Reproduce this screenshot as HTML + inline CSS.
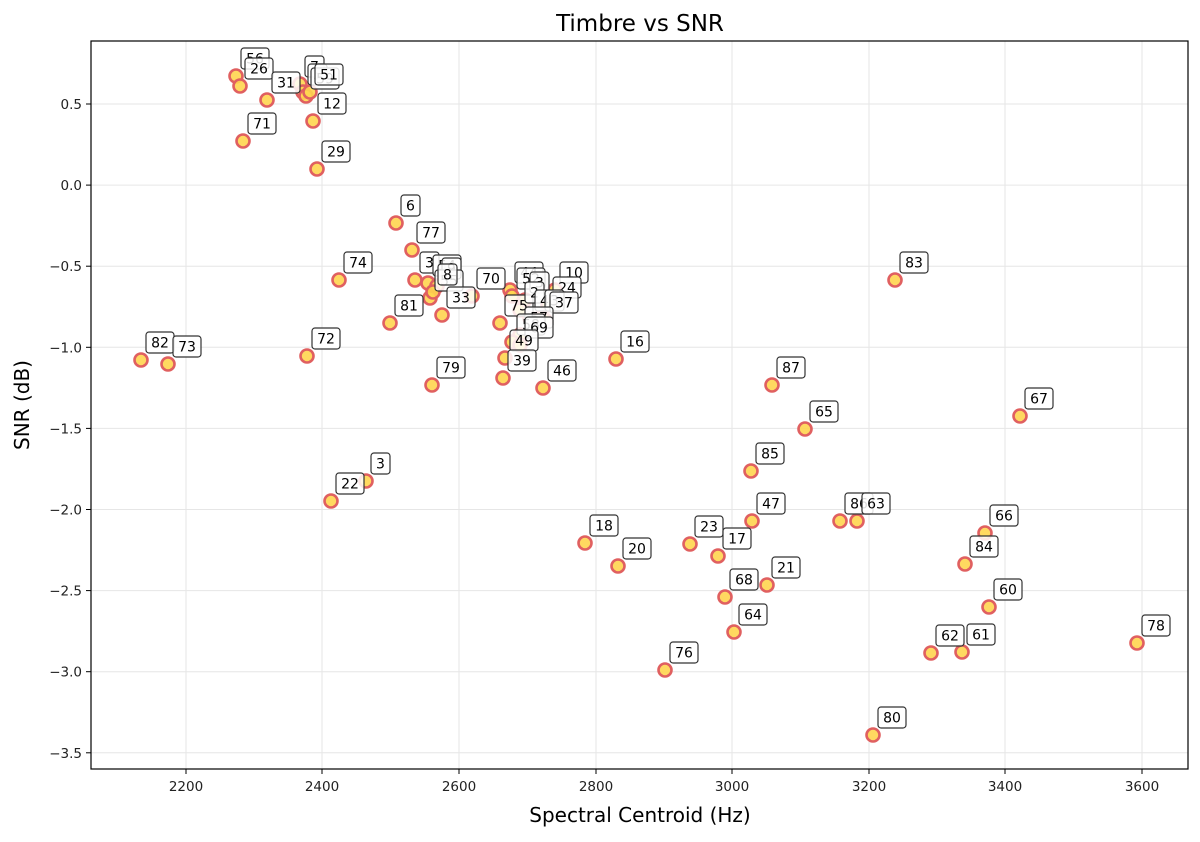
<!DOCTYPE html>
<html><head><meta charset="utf-8"><style>
body{margin:0;background:#fff}
svg text{font-family:"DejaVu Sans","Liberation Sans",sans-serif}
</style></head><body>
<svg id="s" width="1200" height="837" xmlns="http://www.w3.org/2000/svg">
<rect width="1200" height="837" fill="#fff"/>
<g id="grid" stroke="#e6e6e6" stroke-width="1"></g>
<g id="pts"></g>
<g id="lbl"></g>
<rect x="91" y="41" width="1097" height="728" fill="none" stroke="#000" stroke-width="1.2"/>
<g id="ticks" font-size="13.5" fill="#222"></g>
<text x="640" y="31" font-size="23" text-anchor="middle">Timbre vs SNR</text>
<text x="640" y="822" font-size="20" text-anchor="middle">Spectral Centroid (Hz)</text>
<text transform="translate(29,405) rotate(-90)" font-size="20" text-anchor="middle">SNR (dB)</text>
</svg>
<script>
const NS="http://www.w3.org/2000/svg";
function el(t,a,p,txt){const e=document.createElementNS(NS,t);for(const k in a)e.setAttribute(k,a[k]);if(txt!==undefined)e.textContent=txt;document.getElementById(p).appendChild(e);return e;}
const xt=[[2200,186],[2400,322],[2600,459],[2800,596],[3000,732],[3200,869],[3400,1005],[3600,1142]];
xt.forEach(([v,x])=>{el('line',{x1:x,x2:x,y1:41,y2:769},'grid');el('line',{x1:x,x2:x,y1:769,y2:774,stroke:'#000'},'ticks');el('text',{x:x,y:791,'text-anchor':'middle'},'ticks',v);});
for(let i=0;i<9;i++){const v=0.5-0.5*i;const y=104+81.1*i;el('line',{x1:91,x2:1188,y1:y,y2:y},'grid');el('line',{x1:86,x2:91,y1:y,y2:y,stroke:'#000'},'ticks');el('text',{x:82,y:y+5,'text-anchor':'end'},'ticks',(v<0?'\u2212':'')+Math.abs(v).toFixed(1));}
const P=[[236,76,'56'],[240,86,'26'],[267,100,'31'],[300,84,'7'],[303,92,'5'],[306,96,'59'],[310,92,'51'],[313,121,'12'],[243,141,'71'],[317,169,'29'],[396,223,'6'],[412,250,'77'],[339,280,'74'],[415,280,'3'],[428,283,'54'],[437,286,'9'],[430,298,'55'],[433,292,'8'],[442,315,'33'],[472,296,'70'],[390,323,'81'],[307,356,'72'],[141,360,'82'],[168,364,'73'],[432,385,'79'],[500,323,'75'],[510,290,'44'],[512,296,'52'],[525,300,'3'],[520,310,'2'],[530,318,'4'],[555,290,'10'],[548,305,'24'],[540,318,'3'],[545,320,'37'],[520,335,'57'],[512,342,'58'],[520,345,'69'],[505,358,'49'],[503,378,'39'],[543,388,'46'],[616,359,'16'],[895,280,'83'],[772,385,'87'],[805,429,'65'],[1020,416,'67'],[751,471,'85'],[366,481,'3'],[331,501,'22'],[752,521,'47'],[840,521,'86'],[857,521,'63'],[985,533,'66'],[585,543,'18'],[690,544,'23'],[718,556,'17'],[618,566,'20'],[965,564,'84'],[767,585,'21'],[725,597,'68'],[989,607,'60'],[734,632,'64'],[931,653,'62'],[962,652,'61'],[1137,643,'78'],[665,670,'76'],[873,735,'80']];
P.forEach(([x,y,t])=>{el('circle',{cx:x,cy:y,r:6.5,fill:'#ffd54f',stroke:'#e06060','stroke-width':2.6,'fill-opacity':0.9},'pts');});
P.forEach(([x,y,t])=>{const w=t.length*9+10;el('rect',{x:x+5,y:y-28,width:w,height:21,rx:3,fill:'#fff','fill-opacity':0.85,stroke:'#333','stroke-width':1.2},'lbl');el('text',{x:x+5+w/2,y:y-12.5,'font-size':14,'text-anchor':'middle',fill:'#000'},'lbl',t);});
</script>
</body></html>
